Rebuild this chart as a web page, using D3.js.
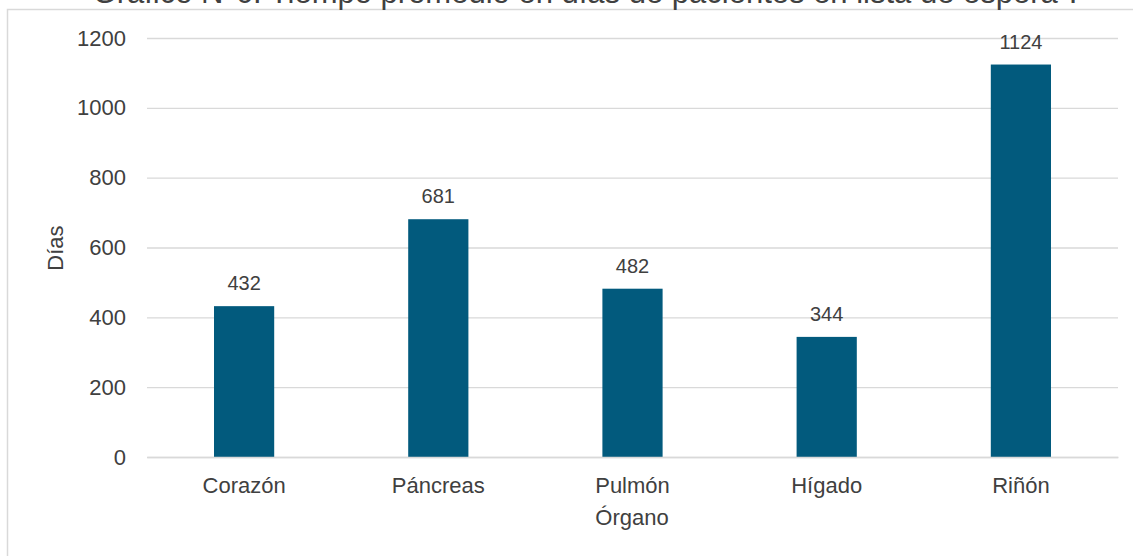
<!DOCTYPE html>
<html><head><meta charset="utf-8">
<script src="https://cdn.jsdelivr.net/npm/d3@7"></script>
<style>body{margin:0;background:#fff}svg{display:block;font-family:"Liberation Sans",Arial,sans-serif}</style>
</head><body><svg id="c" width="1133" height="556"></svg>
<script>
const categories=["Corazón","Páncreas","Pulmón","Hígado","Riñón"];
const values=[432,681,482,344,1124];
const yTicks=[0,200,400,600,800,1000,1200];
const title="Gráfico N°6: Tiempo promedio en días de pacientes en lista de espera\".";
const xTitle="Órgano", yTitle="Días";

const svg=d3.select("#c");
const m={l:147,r:1118,t:38,b:457};
svg.append("rect").attr("x",7.5).attr("y",9.5).attr("width",1140).attr("height",560)
  .attr("fill","none").attr("stroke","#d9d9d9").attr("stroke-width",1.5);
svg.append("text").attr("x",585).attr("y",3).attr("text-anchor","middle")
  .attr("font-size",31).attr("fill","#404040").text(title);
const x=d3.scaleBand().domain(categories).range([m.l,m.r]).paddingInner(0.69).paddingOuter(0.345);
const y=d3.scaleLinear().domain([0,1200]).range([m.b,m.t]);
const ya=svg.append("g").attr("transform",`translate(${m.l},0)`)
  .call(d3.axisLeft(y).tickValues(yTicks).tickFormat(d3.format("d")).tickSize(-(m.r-m.l)).tickPadding(21));
ya.select(".domain").remove();
ya.selectAll("line").attr("stroke","#d9d9d9").attr("stroke-width",1.3);
ya.selectAll("text").attr("font-size",22).attr("fill","#404040").attr("font-family","Liberation Sans, Arial, sans-serif");
svg.selectAll(".bar").data(values).join("rect")
  .attr("x",(d,i)=>x(categories[i])).attr("width",x.bandwidth())
  .attr("y",d=>y(d)).attr("height",d=>y(0)-y(d)).attr("fill","#025a7d");
svg.selectAll(".lbl").data(values).join("text")
  .attr("x",(d,i)=>x(categories[i])+x.bandwidth()/2).attr("y",d=>y(d)-16)
  .attr("text-anchor","middle").attr("font-size",20).attr("fill","#404040").text(d=>d);
const xa=svg.append("g").attr("transform",`translate(0,${m.b})`).call(d3.axisBottom(x).tickSize(0).tickPadding(20));
xa.select(".domain").attr("stroke","#d9d9d9").attr("stroke-width",1.3);
xa.selectAll("text").attr("font-size",22).attr("fill","#404040").attr("font-family","Liberation Sans, Arial, sans-serif");
svg.append("text").attr("x",632).attr("y",525).attr("text-anchor","middle").attr("font-size",22).attr("fill","#404040").text(xTitle);
svg.append("text").attr("transform","translate(63,248) rotate(-90)").attr("text-anchor","middle").attr("font-size",22).attr("fill","#404040").text(yTitle);
</script></body></html>
